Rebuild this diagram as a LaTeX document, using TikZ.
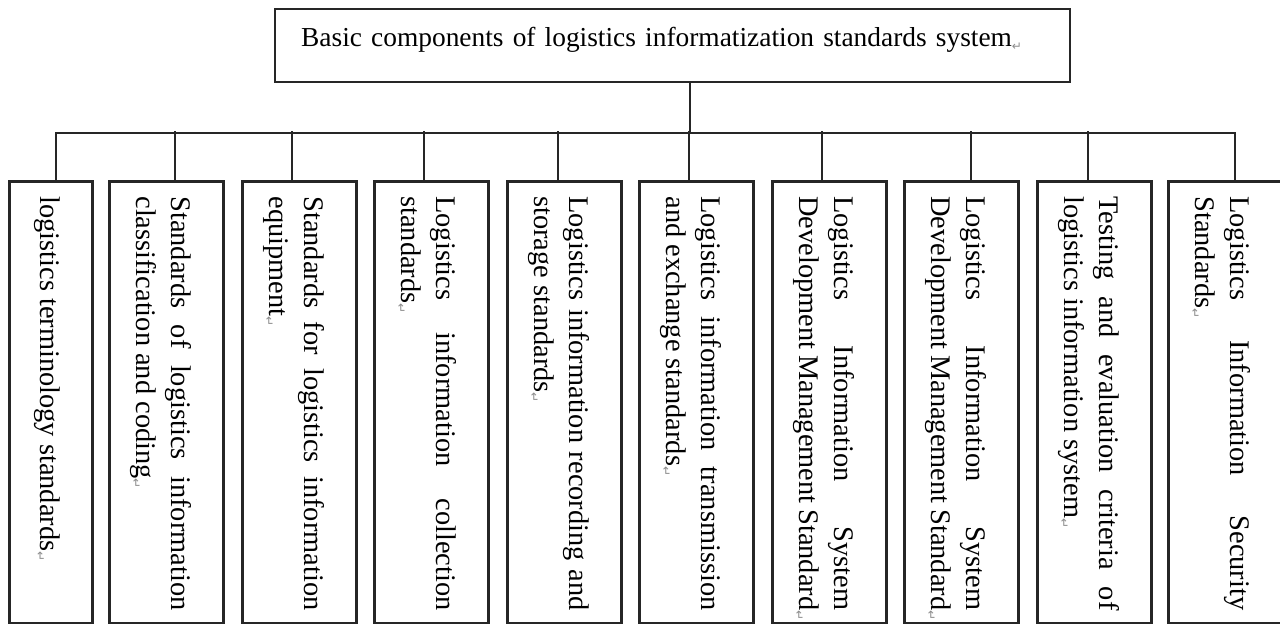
\documentclass[tikz,border=0pt]{standalone}
\usepackage{fontspec}
\setmainfont{Liberation Serif}
\newfontfamily\markfont{DejaVu Sans}
\usepackage{tikz}

\newcommand{\retmark}{\rlap{\markfont\fontsize{6}{6}\selectfont\color{black!45}\raisebox{-2pt}{↵}}}
\newcommand{\stdfont}{\fontsize{14.2}{17.5}\selectfont\hyphenpenalty10000 \tolerance9999 }

\tikzset{
  root/.style={draw=black!85, line width=1.2pt, anchor=north west,
    inner xsep=13pt, inner ysep=8.5pt, text width=371.5pt,
    text height=10pt, text depth=9.5pt, align=left,
    font=\fontsize{13.7}{17}\selectfont},
  leaf/.style={draw=black!85, line width=1.3pt, anchor=north west,
    minimum width=57pt, minimum height=221pt, inner sep=0pt},
  stdtext/.style={rotate=-90, anchor=north west, inner sep=0pt,
    text width=207pt, align=justify, font=\stdfont},
  link/.style={draw=black!85, line width=1pt}
}

\begin{document}
\begin{tikzpicture}[x=0.5pt,y=-0.5pt]
\useasboundingbox (0,0) rectangle (1280,624);

% root
\node[root] (top) at (274,8) {Basic components of logistics informatization standards system\retmark};

% the ten parts
\node[leaf, minimum width=41.5pt] (b1) at (8,180) {};
\node[leaf] (b2)  at (108,180) {};
\node[leaf] (b3)  at (241,180) {};
\node[leaf] (b4)  at (373,180) {};
\node[leaf] (b5)  at (506,180) {};
\node[leaf] (b6)  at (638,180) {};
\node[leaf] (b7)  at (771,180) {};
\node[leaf] (b8)  at (903,180) {};
\node[leaf] (b9)  at (1036,180) {};
\node[leaf] (b10) at (1167,180) {};

\node[stdtext] (t1)  at ([xshift=-16.5pt,yshift=-8pt]b1.north east) {logistics terminology standards\retmark};
\node[stdtext] (t2)  at ([xshift=-16.5pt,yshift=-8pt]b2.north east) {Standards of logistics information\linebreak classification and coding\retmark};
\node[stdtext] (t3)  at ([xshift=-16.5pt,yshift=-8pt]b3.north east) {Standards for logistics information\linebreak equipment\retmark};
\node[stdtext] (t4)  at ([xshift=-16.5pt,yshift=-8pt]b4.north east) {Logistics information collection\linebreak standards\retmark};
\node[stdtext] (t5)  at ([xshift=-16.5pt,yshift=-8pt]b5.north east) {Logistics information recording and\linebreak storage standards\retmark};
\node[stdtext] (t6)  at ([xshift=-16.5pt,yshift=-8pt]b6.north east) {Logistics information transmission\linebreak and exchange standards\retmark};
\node[stdtext] (t7)  at ([xshift=-16.5pt,yshift=-8pt]b7.north east) {Logistics Information System\linebreak Development Management Standard\retmark};
\node[stdtext] (t8)  at ([xshift=-16.5pt,yshift=-8pt]b8.north east) {Logistics Information System\linebreak Development Management Standard\retmark};
\node[stdtext] (t9)  at ([xshift=-16.5pt,yshift=-8pt]b9.north east) {Testing and evaluation criteria of\linebreak logistics information system\retmark};
\node[stdtext] (t10) at ([xshift=-16.5pt,yshift=-8pt]b10.north east) {Logistics Information Security\linebreak Standards\retmark};

% connectors
\draw[link] ([xshift=8.5pt]top.south) -- ++(0,50) coordinate (hub);
\draw[link] ([xshift=2.75pt]b1.north) |- (hub) -| ([xshift=5pt]b10.north);
\draw[link] ([xshift=4.5pt]b2.north) -- ++(0,-49);
\draw[link] ([xshift=-3.75pt]b3.north) -- ++(0,-49);
\draw[link] ([xshift=-3.5pt]b4.north) -- ++(0,-49);
\draw[link] ([xshift=-3.25pt]b5.north) -- ++(0,-49);
\draw[link] ([xshift=-3.5pt]b6.north) -- ++(0,-49);
\draw[link] ([xshift=-3.5pt]b7.north) -- ++(0,-49);
\draw[link] ([xshift=5pt]b8.north) -- ++(0,-49);
\draw[link] ([xshift=-3.25pt]b9.north) -- ++(0,-49);
\end{tikzpicture}
\end{document}
